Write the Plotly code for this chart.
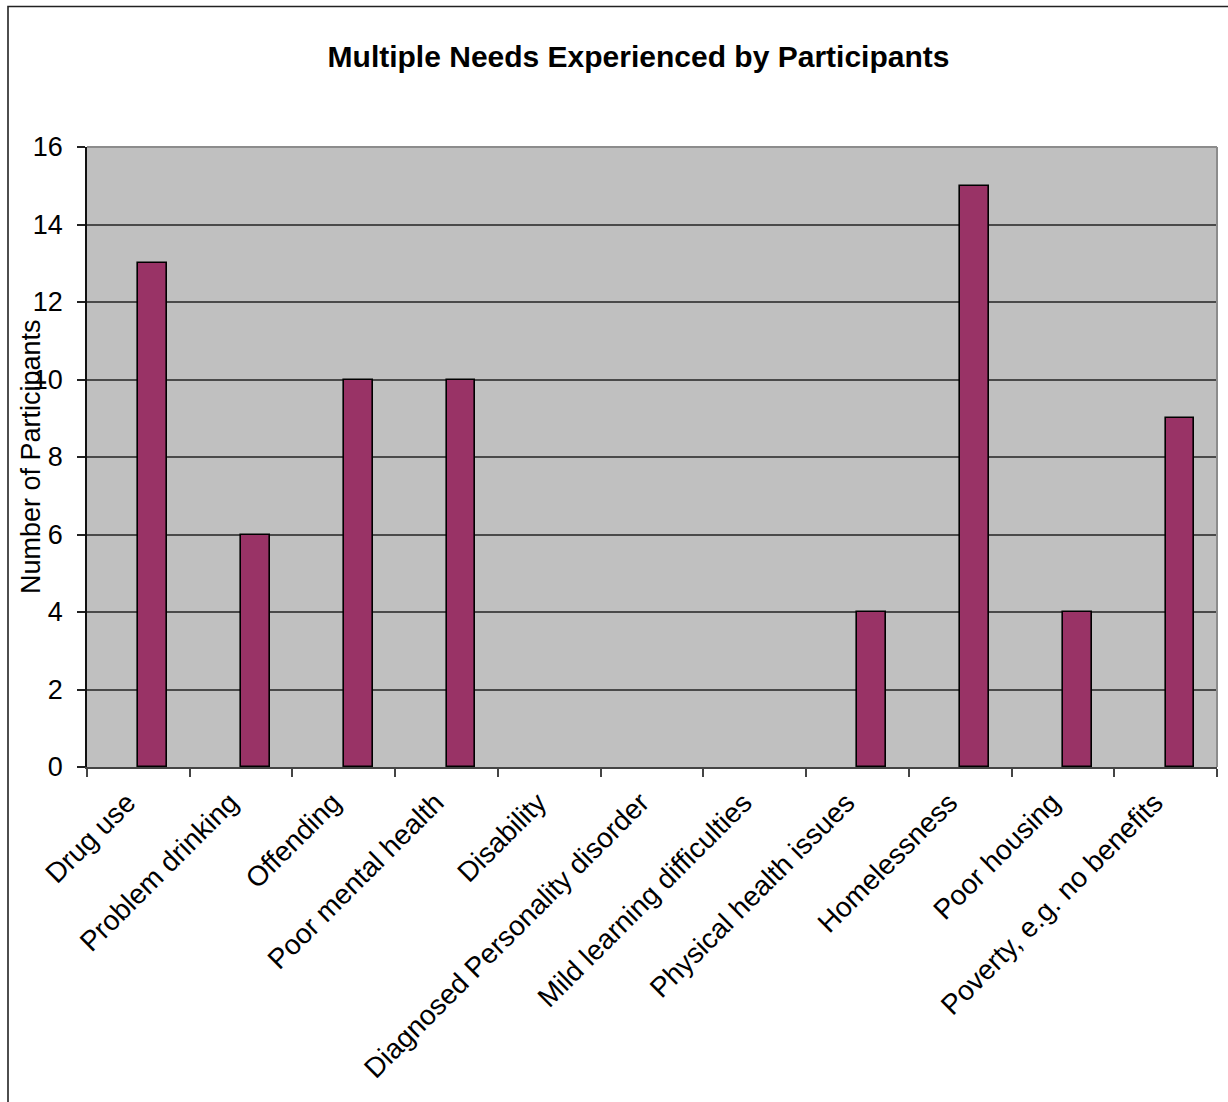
import plotly.graph_objects as go

# Needs reported by participants and how many reported each one
needs = [
    "Drug use",
    "Problem drinking",
    "Offending",
    "Poor mental health",
    "Disability",
    "Diagnosed Personality disorder",
    "Mild learning difficulties",
    "Physical health issues",
    "Homelessness",
    "Poor housing",
    "Poverty, e.g. no benefits",
]
participants = [13, 6, 10, 10, 0, 0, 0, 4, 15, 4, 9]
y_ticks = [0, 2, 4, 6, 8, 10, 12, 14, 16]

W, H = 1228, 1102
L, R, T, B = 87, 11, 147, 335
PW, PH = W - L - R, H - T - B


def px_x(p):
    return (p - L) / PW


def px_y(p):
    return (H - B - p) / PH


FONT = "Liberation Sans, Arial, sans-serif"

# empty categories get no outline so nothing shows on the baseline
outline_widths = [1.6 if v > 0 else 0 for v in participants]

fig = go.Figure()
fig.add_trace(
    go.Bar(
        x=needs,
        y=participants,
        width=0.28,
        offset=0,
        marker=dict(color="#993366", line=dict(color="#000000", width=outline_widths)),
        showlegend=False,
    )
)

fig.update_layout(
    width=W,
    height=H,
    margin=dict(l=L, r=R, t=T, b=B, autoexpand=False),
    paper_bgcolor="white",
    plot_bgcolor="#C0C0C0",
    font=dict(family=FONT, size=27, color="#000000"),
    title=dict(
        text="<b>Multiple Needs Experienced by Participants</b>",
        font=dict(family=FONT, size=30, color="#000000"),
        x=638.5 / W,
        xanchor="center",
        xref="container",
        y=1 - 56 / H,
        yanchor="middle",
        yref="container",
    ),
    bargap=0,
)

fig.update_xaxes(
    type="category",
    tickangle=-45,
    tickson="boundaries",
    ticks="outside",
    ticklen=8,
    tickwidth=1.5,
    tickcolor="#444444",
    showline=True,
    linecolor="#444444",
    linewidth=2,
    showgrid=False,
    ticklabelshift=-11,
    ticklabelstandoff=6,
    tickfont=dict(family=FONT, size=28, color="#000000"),
)

fig.update_yaxes(
    range=[0, 16],
    tickvals=y_ticks,
    ticks="outside",
    ticklen=8,
    tickwidth=1.5,
    tickcolor="#222222",
    showline=True,
    linecolor="#111111",
    linewidth=1.5,
    showgrid=True,
    gridcolor="#4a4a4a",
    gridwidth=1.5,
    zeroline=False,
    ticklabelstandoff=9,
    tickfont=dict(family=FONT, size=27, color="#000000"),
)

# Y axis title, sitting close to the tick labels
fig.add_annotation(
    text="Number of Participants",
    textangle=-90,
    xref="paper",
    yref="paper",
    x=px_x(31),
    y=0.5,
    xanchor="center",
    yanchor="middle",
    showarrow=False,
    font=dict(family=FONT, size=27, color="#000000"),
)

# Light grey top and right edges of the plot area
fig.add_shape(type="line", xref="paper", yref="paper", x0=0, x1=1, y0=1, y1=1,
              line=dict(color="#8c8c8c", width=2), layer="above")
fig.add_shape(type="line", xref="paper", yref="paper", x0=1, x1=1, y0=0, y1=1,
              line=dict(color="#8c8c8c", width=2), layer="above")

# Outer chart frame
fig.add_shape(type="rect", xref="paper", yref="paper",
              x0=px_x(8), x1=px_x(1250), y0=px_y(6.5), y1=px_y(1130),
              line=dict(color="#222222", width=1.6), fillcolor="rgba(0,0,0,0)",
              layer="above")

fig.write_html("out.html")
